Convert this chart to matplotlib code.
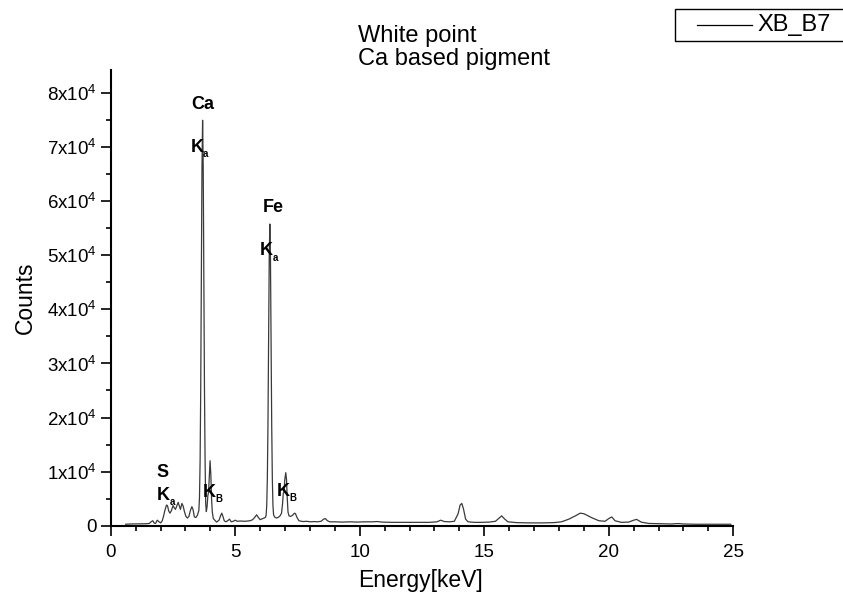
import matplotlib
matplotlib.use("Agg")
import matplotlib.pyplot as plt
from matplotlib.patches import Rectangle
from matplotlib.lines import Line2D
from matplotlib.ticker import MultipleLocator, FixedLocator, FixedFormatter

plt.rcParams['font.family'] = ['Liberation Sans', 'DejaVu Sans']
plt.rcParams['mathtext.fontset'] = 'custom'
plt.rcParams['mathtext.rm'] = 'Liberation Sans'
plt.rcParams['mathtext.bf'] = 'Liberation Sans:bold'
plt.rcParams['mathtext.it'] = 'Liberation Sans:italic'

# ---------------- data ----------------
series_name = "XB_B7"
title_lines = ["White point", "Ca based pigment"]

energy_kev = [
    0.60, 0.80, 1.00, 1.20, 1.40, 1.55, 1.62, 1.69, 1.75, 1.80, 1.87, 1.94, 2.01, 2.07,
    2.12, 2.18, 2.24, 2.28, 2.33, 2.38, 2.44, 2.50, 2.55, 2.60, 2.65, 2.71, 2.76, 2.80,
    2.86, 2.91, 2.96, 3.02, 3.08, 3.14, 3.20, 3.26, 3.31, 3.36, 3.42, 3.48,
    3.54, 3.565, 3.59, 3.615, 3.64, 3.665, 3.69, 3.715, 3.74, 3.765, 3.79, 3.815,
    3.84, 3.87, 3.90, 3.93, 3.96, 3.99, 4.02, 4.05, 4.08, 4.12, 4.18, 4.25,
    4.35, 4.42, 4.46, 4.50, 4.56, 4.62, 4.70, 4.77, 4.84, 4.92, 5.00, 5.08, 5.20,
    5.40, 5.60, 5.70, 5.78, 5.86, 5.93, 6.00, 6.10,
    6.21, 6.24, 6.265, 6.29, 6.315, 6.34, 6.365, 6.39, 6.415, 6.44, 6.465, 6.49,
    6.515, 6.54, 6.58, 6.65, 6.72, 6.80,
    6.86, 6.90, 6.93, 6.96, 6.99, 7.03, 7.06, 7.09, 7.12, 7.16, 7.22, 7.30, 7.38,
    7.42, 7.48, 7.56, 7.65, 7.75, 7.85, 7.95, 8.05, 8.15, 8.30, 8.45, 8.55, 8.62,
    8.70, 8.80, 9.00, 9.30, 9.60, 9.90, 10.20, 10.50, 10.70, 10.90, 11.30, 11.80,
    12.30, 12.80, 13.10, 13.25, 13.40, 13.60, 13.80, 13.95, 14.03, 14.10, 14.17,
    14.25, 14.35, 14.60, 14.90, 15.20, 15.45, 15.60, 15.70, 15.80, 15.95, 16.30,
    16.80, 17.30, 17.80, 18.10, 18.40, 18.70, 18.85, 19.00, 19.30, 19.60, 19.85,
    20.00, 20.12, 20.25, 20.50, 20.80, 21.00, 21.12, 21.30, 21.60, 22.00, 22.50,
    22.80, 23.00, 23.50, 24.00, 24.50, 24.90,
]

counts = [
    250, 300, 320, 330, 340, 400, 700, 900, 450, 400, 1000, 700, 500, 900,
    1700, 2900, 3800, 3700, 2700, 2300, 2800, 3700, 3300, 3000, 3600, 4300, 3600, 3000,
    4100, 3600, 2600, 1700, 1400, 1700, 2800, 3500, 2900, 1600, 1500, 1900,
    2800, 5200, 11900, 25400, 46500, 66200, 75000, 66200, 46500, 25400, 11900, 4000,
    2600, 3500, 5500, 6200, 9000, 12000, 9500, 5000, 2500, 1300, 1000, 650,
    1000, 1900, 2300, 1800, 900, 700, 900, 1200, 700, 800, 1000, 800, 850,
    800, 900, 1100, 1500, 2000, 1500, 1100, 1300,
    1500, 1900, 3700, 8700, 18700, 34500, 49300, 55800, 49300, 34500, 18700, 8700,
    3700, 2000, 1600, 1400, 1500, 1800,
    2300, 4000, 6000, 6200, 8500, 9800, 8500, 5000, 2500, 1800, 1700, 1900, 2300,
    2200, 1500, 900, 800, 750, 800, 750, 700, 750, 700, 800, 1200, 1300,
    900, 700, 700, 650, 700, 650, 700, 700, 750, 650, 600, 600,
    600, 600, 700, 1000, 750, 700, 800, 2200, 3800, 4100, 3000,
    1200, 700, 600, 600, 650, 800, 1400, 1800, 1300, 700, 550,
    500, 500, 550, 700, 1200, 1900, 2300, 2200, 1500, 900, 800,
    1300, 1600, 900, 600, 650, 1000, 1150, 650, 400, 350, 300,
    380, 300, 250, 250, 250, 250,
]

x_ticks = [0, 5, 10, 15, 20, 25]
x_tick_labels = ["0", "5", "10", "15", "20", "25"]
y_ticks = [0, 10000, 20000, 30000, 40000, 50000, 60000, 70000, 80000]
y_tick_labels = ["0"] + [r"$\mathregular{%dx10^4}$" % k for k in range(1, 9)]

# peak annotations: (text, energy, counts) -- label anchors
peak_labels = [
    ("Ca", 3.25, 77000),
    ("Fe", 6.12, 58000),
    ("S", 1.85, 9000),
]
# emission line labels: (subscript, energy, counts)
line_labels = [
    ("a", 3.21, 69100),
    ("a", 6.00, 50000),
    ("a", 1.85, 4730),
    ("B", 3.69, 5340),
    ("B", 6.67, 5530),
]

# ---------------- figure ----------------
W, H = 843, 604
fig = plt.figure(figsize=(W / 100, H / 100), dpi=100)
ax_left, ax_right, ax_top, ax_bot = 110.7, 733.3, 70.0, 525.6
ax = fig.add_axes([ax_left / W, 1 - ax_bot / H, (ax_right - ax_left) / W, (ax_bot - ax_top) / H])

ax.plot(energy_kev, counts, color="#3a3a3a", lw=0.9)

ax.set_xlim(0, 25)
ax.set_ylim(0, 84300)

for s in ("top", "right"):
    ax.spines[s].set_visible(False)
for s in ("left", "bottom"):
    ax.spines[s].set_linewidth(1.5)

ax.xaxis.set_major_locator(FixedLocator(x_ticks))
ax.xaxis.set_major_formatter(FixedFormatter(x_tick_labels))
ax.xaxis.set_minor_locator(MultipleLocator(1))
ax.yaxis.set_major_locator(FixedLocator(y_ticks))
ax.yaxis.set_major_formatter(FixedFormatter(y_tick_labels))
ax.yaxis.set_minor_locator(MultipleLocator(5000))

ax.tick_params(which="major", direction="out", length=7, width=1.2, labelsize=13.5, pad=3)
ax.tick_params(axis="x", which="major", pad=6)
ax.tick_params(which="minor", direction="out", length=3.6, width=1.2)

for txt, ex, cy in peak_labels:
    ax.text(ex, cy, txt, fontsize=13, fontweight="bold", ha="left", va="baseline")
for sub, ex, cy in line_labels:
    ax.text(ex, cy, "K", fontsize=13, fontweight="bold", ha="left", va="baseline")
    ax.annotate(sub, xy=(ex, cy), xytext=(9.0, -3.8), textcoords="offset points",
                fontsize=7, fontweight="bold", ha="left", va="baseline")

# axis labels
fig.text(421 / W, 1 - 581 / H, "Energy[keV]", fontsize=16.5, ha="center", va="center")
fig.text(25 / W, 1 - 298 / H, "Counts", fontsize=16.5, ha="center", va="center", rotation=90)

# title lines
fig.text(358 / W, 1 - 41.7 / H, title_lines[0], fontsize=17, ha="left", va="baseline")
fig.text(358 / W, 1 - 65.5 / H, title_lines[1], fontsize=17, ha="left", va="baseline")

# legend box (top right)
fig.patches.append(Rectangle((675 / W, 1 - 40.7 / H), (W - 674) / W, 31.4 / H,
                             transform=fig.transFigure, fill=False, edgecolor="black", lw=1.0))
fig.lines.append(Line2D([697 / W, 752 / W], [1 - 25 / H, 1 - 25 / H], transform=fig.transFigure,
                        color="black", lw=0.9))
fig.text(757 / W, 1 - 25 / H, series_name, fontsize=17, ha="left", va="center")

fig.savefig("out.png", dpi=100)
